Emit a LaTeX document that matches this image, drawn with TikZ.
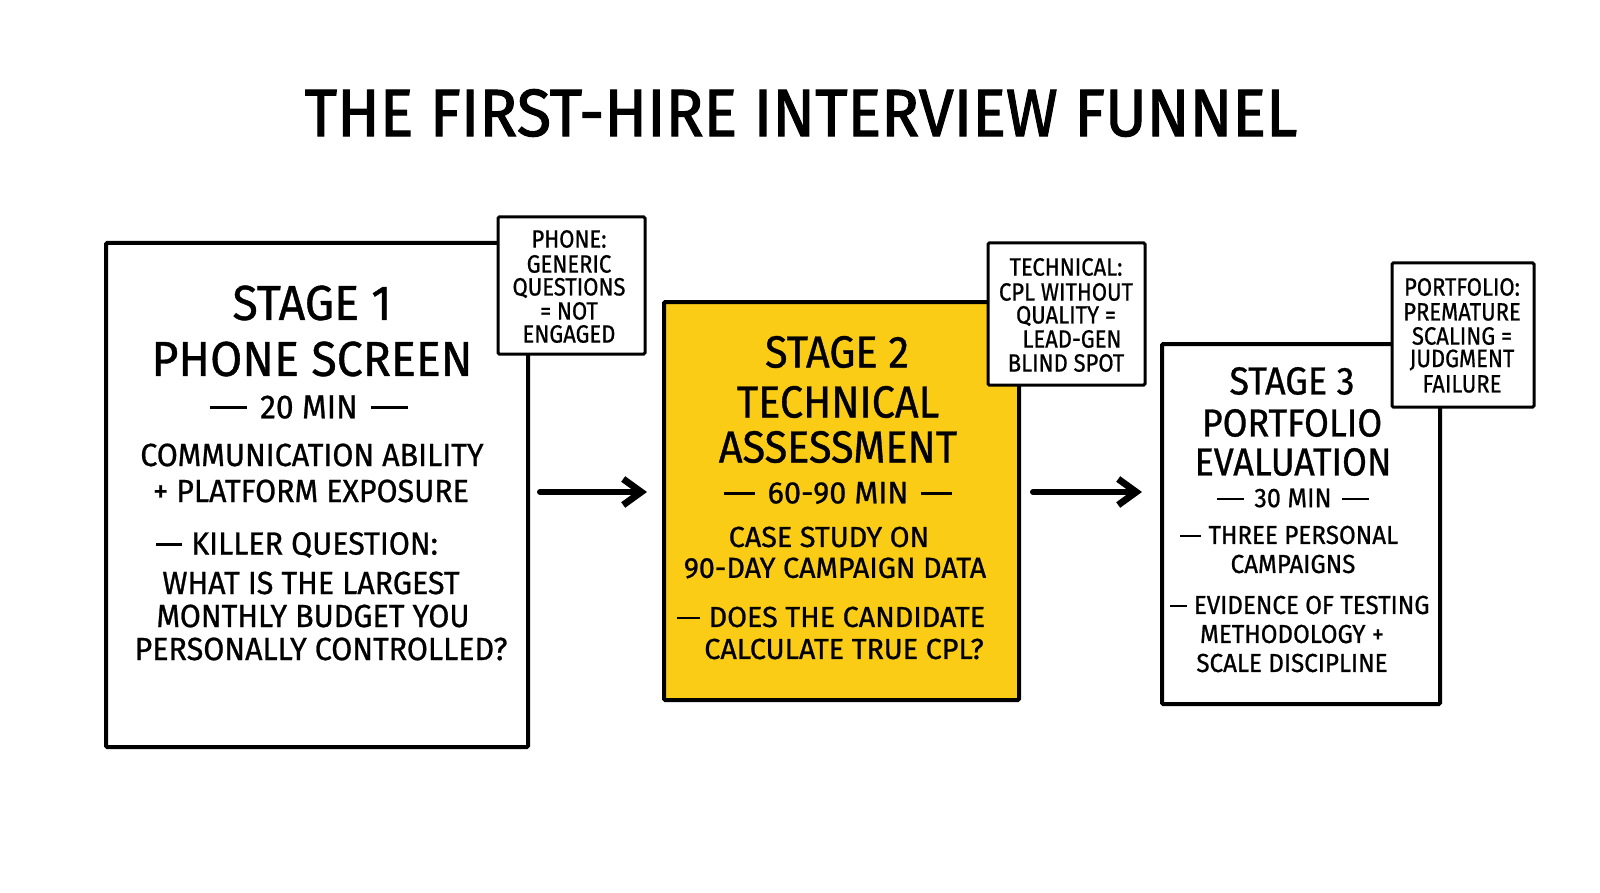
\documentclass[tikz,border=0pt]{standalone}
\usepackage{fontspec}
\setmainfont{Fira Sans}[FakeStretch=0.9]
\newfontfamily\titlefont{Fira Sans}[FakeStretch=0.94,FakeBold=1.6]
\newfontfamily\fHA{Fira Sans}[FakeStretch=0.95,FakeBold=0.8]
\newfontfamily\fHB{Fira Sans}[FakeStretch=0.92,FakeBold=0.8]
\newfontfamily\fHC{Fira Sans}[FakeStretch=0.92,FakeBold=0.8]
\newfontfamily\fBA{Fira Sans}[FakeStretch=0.95,FakeBold=0.8]
\newfontfamily\fBB{Fira Sans}[FakeStretch=0.99,FakeBold=0.8]
\newfontfamily\fBC{Fira Sans}[FakeStretch=0.93,FakeBold=0.8]
\newfontfamily\fNT{Fira Sans}[FakeStretch=0.88,FakeBold=0.7]
\newcommand\hd[1]{\rule[0.27em]{#1}{0.085em}}
\usetikzlibrary{arrows.meta,calc}
\definecolor{stageyellow}{HTML}{FACC15}
\tikzset{
  stagebox/.style={draw=black,line width=2pt,fill=white,inner sep=0pt,rounded corners=0.6pt},
  notebox/.style={draw=black,line width=1.5pt,fill=white,inner sep=0pt,rounded corners=0.6pt},
  txt/.style={inner sep=0pt,anchor=center,text=black},
  ttl/.style={txt,font=\titlefont\fontsize{33.4}{36}\selectfont},
  hA/.style={txt,font=\fHA\fontsize{24.5}{26}\selectfont},
  hB/.style={txt,font=\fHB\fontsize{22.5}{24}\selectfont},
  hC/.style={txt,font=\fHC\fontsize{19.5}{21}\selectfont},
  mA/.style={txt,font=\fBA\fontsize{16.7}{18}\selectfont},
  mB/.style={txt,font=\fBB\fontsize{15.5}{17}\selectfont},
  mC/.style={txt,font=\fBC\fontsize{13.5}{15}\selectfont},
  bA/.style={txt,font=\fBA\fontsize{16}{18}\selectfont},
  bB/.style={txt,font=\fBB\fontsize{14.5}{16}\selectfont},
  bC/.style={txt,font=\fBC\fontsize{13}{15}\selectfont},
  nt/.style={txt,font=\fNT\fontsize{12.5}{14}\selectfont},
  arr/.style={line width=3pt,line cap=round,-{Straight Barb[length=9pt,width=13pt,line width=3.4pt]}}
}
\begin{document}
\begin{tikzpicture}[x=0.5pt,y=-0.5pt]
\useasboundingbox[fill=white] (0,0) rectangle (1600,893);

\node[ttl] (title) at (801,113) {THE FIRST-HIRE INTERVIEW FUNNEL};

% Stage 1
\node[stagebox,minimum width=211pt,minimum height=252pt] (b1) at (317,495) {};
\node[notebox,minimum width=73.5pt,minimum height=68.5pt] (n1) at (571.5,285.5) {};
\node[hA] (s1a) at (312,303) {STAGE 1};
\node[hA] (s1b) at (312,359) {PHONE SCREEN};
\node[mA] (s1c) at (309,407) {\hd{1.1em}\hspace{0.4em}20 MIN\hspace{0.4em}\hd{1.1em}};
\node[bA] (s1d) at (312,455) {COMMUNICATION ABILITY};
\node[bA] (s1e) at (311,491) {+ PLATFORM EXPOSURE};
\node[bA] (s1f) at (297,545) {\hd{0.8em}\hspace{0.3em}KILLER QUESTION:};
\node[bA] (s1g) at (311,583) {WHAT IS THE LARGEST};
\node[bA] (s1h) at (313,616) {MONTHLY BUDGET YOU};
\node[bA] (s1i) at (321,649) {PERSONALLY CONTROLLED?};
\node[nt] (n1a) at (569,239) {PHONE:};
\node[nt] (n1b) at (569,264) {GENERIC};
\node[nt] (n1c) at (569,288) {QUESTIONS};
\node[nt] (n1d) at (569,311) {= NOT};
\node[nt] (n1e) at (569,334) {ENGAGED};

% Stage 2
\node[stagebox,fill=stageyellow,minimum width=177.5pt,minimum height=199pt] (b2) at (841.5,501) {};
\node[notebox,minimum width=78.5pt,minimum height=71pt] (n2) at (1066.5,314) {};
\node[hB] (s2a) at (837,352) {STAGE 2};
\node[hB] (s2b) at (838,402) {TECHNICAL};
\node[hB] (s2c) at (838,447) {ASSESSMENT};
\node[mB] (s2d) at (838,493) {\hd{1em}\hspace{0.4em}60-90 MIN\hspace{0.4em}\hd{1em}};
\node[bB] (s2e) at (829,537) {CASE STUDY ON};
\node[bB] (s2f) at (835,568) {90-DAY CAMPAIGN DATA};
\node[bB] (s2g) at (831,617) {\hd{0.8em}\hspace{0.3em}DOES THE CANDIDATE};
\node[bB] (s2h) at (844,649) {CALCULATE TRUE CPL?};
\node[nt] (n2a) at (1066,267) {TECHNICAL:};
\node[nt] (n2b) at (1066,292) {CPL WITHOUT};
\node[nt] (n2c) at (1066,316) {QUALITY =};
\node[nt] (n2d) at (1072,339) {LEAD-GEN};
\node[nt] (n2e) at (1066,363) {BLIND SPOT};

% Stage 3
\node[stagebox,minimum width=139pt,minimum height=180pt] (b3) at (1301,524) {};
\node[notebox,minimum width=71pt,minimum height=72pt] (n3) at (1463,335) {};
\node[hC] (s3a) at (1292,381) {STAGE 3};
\node[hC] (s3b) at (1292,423) {PORTFOLIO};
\node[hC] (s3c) at (1293,462) {EVALUATION};
\node[mC] (s3d) at (1293,498) {\hd{1em}\hspace{0.4em}30 MIN\hspace{0.4em}\hd{1em}};
\node[bC] (s3e) at (1289,535) {\hd{0.8em}\hspace{0.3em}THREE PERSONAL};
\node[bC] (s3f) at (1293,564) {CAMPAIGNS};
\node[bC] (s3g) at (1300,605) {\hd{0.65em}\hspace{0.25em}EVIDENCE OF TESTING};
\node[bC] (s3h) at (1292,634) {METHODOLOGY +};
\node[bC] (s3i) at (1292,663) {SCALE DISCIPLINE};
\node[nt] (n3a) at (1462,287) {PORTFOLIO:};
\node[nt] (n3b) at (1462,312) {PREMATURE};
\node[nt] (n3c) at (1462,336) {SCALING =};
\node[nt] (n3d) at (1462,360) {JUDGMENT};
\node[nt] (n3e) at (1462,384) {FAILURE};

% Arrows
\draw[arr] ($(b1.east)+(10,-3)$) -- ($(b2.west)+(-15,-9)$);
\draw[arr] ($(b2.east)+(12,-9)$) -- ($(b3.west)+(-18,-32)$);
\end{tikzpicture}
\end{document}
